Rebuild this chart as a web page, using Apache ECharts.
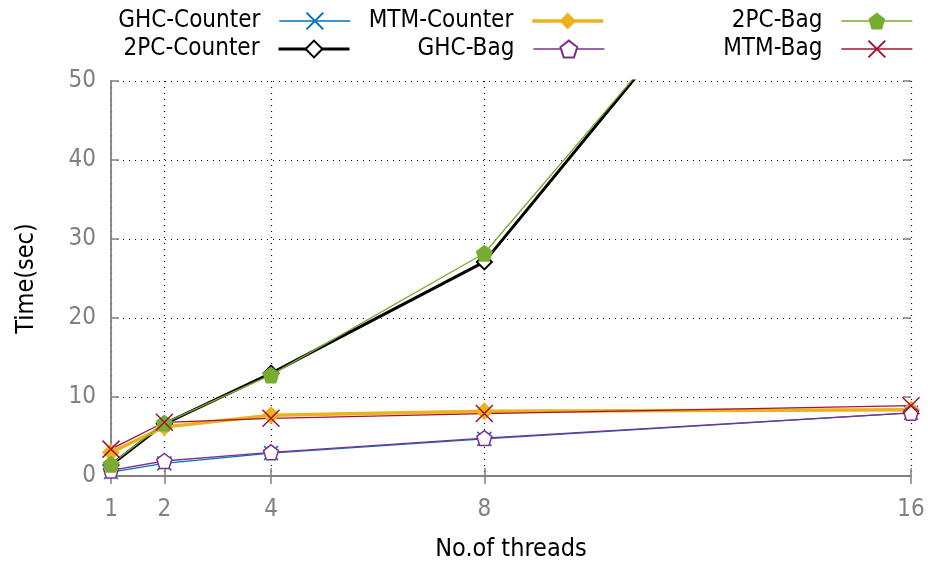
<!DOCTYPE html>
<html>
<head>
<meta charset="utf-8">
<script src="https://cdn.jsdelivr.net/npm/echarts@6/dist/echarts.min.js"></script>
<style>
  html, body { margin: 0; padding: 0; background: #fff; }
  #chart { width: 928px; height: 565px; }
</style>
</head>
<body>
<div id="chart"></div>
<script>
const threads = [1, 2, 4, 8, 16];
const tickValues = [1, 2, 4, 8, 16];

const ghcCounter = [0.5, 1.6, 2.9, 4.7, 8.0];
const twoPcCounter = [1.4, 6.6, 13.0, 27.1, 93.0];
const mtmCounter = [3.0, 6.2, 7.7, 8.2, 8.4];
const ghcBag = [0.7, 1.9, 3.0, 4.8, 8.0];
const twoPcBag = [1.5, 6.7, 12.8, 28.2, 91.5];
const mtmBag = [3.4, 6.8, 7.3, 7.9, 8.9];

const FONT = '"DejaVu Sans Condensed", "DejaVu Sans"';
const X_PATH = 'path://M0,0L10,10M10,0L0,10';
const PENTAGON = 'path://M0,-10L9.51,-3.09L5.88,8.09L-5.88,8.09L-9.51,-3.09Z';

function pairs(vals) {
  return threads.map((t, i) => [t, vals[i]]);
}

function mkSeries(name, vals, color, width, symbol, size, filled) {
  return {
    name: name,
    type: 'line',
    data: pairs(vals),
    symbol: symbol,
    symbolSize: size,
    showSymbol: true,
    clip: true,
    animation: false,
    lineStyle: { color: color, width: width },
    itemStyle: {
      color: filled ? color : '#fff',
      borderColor: color,
      borderWidth: filled ? 0 : 1.5
    },
    emphasis: { disabled: true }
  };
}

// x markers are strokes only
function mkCross(name, vals, color, size) {
  const s = mkSeries(name, vals, color, 1.3, X_PATH, size, false);
  s.itemStyle = { color: color, borderColor: color, borderWidth: 1.5 };
  return s;
}

const series = [
  mkCross('GHC-Counter', ghcCounter, '#0072bd', 14),
  mkSeries('2PC-Counter', twoPcCounter, '#000000', 3, 'diamond', 15, false),
  mkSeries('MTM-Counter', mtmCounter, '#edb120', 3.5, 'diamond', 18, true),
  mkSeries('GHC-Bag', ghcBag, '#7e2f8e', 1.3, PENTAGON, 15, false),
  mkSeries('2PC-Bag', twoPcBag, '#77ac30', 1.3, PENTAGON, 17, true),
  mkCross('MTM-Bag', mtmBag, '#a2142f', 17)
];
series[1].itemStyle.borderWidth = 2;

// one legend per entry so the text is right-aligned against the sample
const legendPos = [
  ['GHC-Counter', 577, 9, 1.3],
  ['2PC-Counter', 577, 37, 3],
  ['MTM-Counter', 323, 9, 3.5],
  ['GHC-Bag', 323, 37, 1.3],
  ['2PC-Bag', 15, 9, 1.3],
  ['MTM-Bag', 15, 37, 1.3]
];
const legends = legendPos.map(p => ({
  data: [p[0]],
  right: p[1],
  top: p[2],
  padding: 0,
  align: 'right',
  itemWidth: 71,
  itemHeight: 21,
  selectedMode: false,
  lineStyle: { width: p[3] },
  textStyle: { fontFamily: FONT, fontSize: 24, color: '#000', padding: [0, 14, 0, 0] }
}));

const gridLine = { show: true, lineStyle: { color: '#000', width: 1.2, type: [1, 5] } };
const axisGray = '#808080';

const option = {
  animation: false,
  backgroundColor: '#fff',
  legend: legends,
  grid: { left: 111, right: 17, top: 81, bottom: 89, containLabel: false, outerBoundsMode: 'none' },
  xAxis: [{
    type: 'value',
    min: 1,
    max: 16,
    name: 'No.of threads',
    nameLocation: 'middle',
    nameGap: 61,
    nameTextStyle: { fontFamily: FONT, fontSize: 25, color: '#000' },
    axisLine: { show: true, lineStyle: { color: axisGray, width: 1.8 } },
    axisTick: { show: true, inside: true, length: 8, customValues: tickValues, lineStyle: { color: axisGray, width: 1.5 } },
    axisLabel: { customValues: tickValues, margin: 22, fontFamily: FONT, fontSize: 24, color: axisGray },
    splitLine: gridLine
  }, {
    type: 'value',
    position: 'top',
    min: 1,
    max: 16,
    axisLine: { show: false },
    axisTick: { show: true, inside: true, length: 8, customValues: tickValues, lineStyle: { color: axisGray, width: 1.5 } },
    axisLabel: { show: false },
    splitLine: { show: false }
  }],
  yAxis: [{
    type: 'value',
    min: 0,
    max: 50,
    interval: 10,
    name: 'Time(sec)',
    nameLocation: 'middle',
    nameGap: 72,
    nameTextStyle: { fontFamily: FONT, fontSize: 25, color: '#000' },
    axisLine: { show: true, lineStyle: { color: axisGray, width: 1.8 } },
    axisTick: { show: true, inside: true, length: 8, lineStyle: { color: axisGray, width: 1.5 } },
    axisLabel: { margin: 15, fontFamily: FONT, fontSize: 24, color: axisGray },
    splitLine: gridLine
  }, {
    type: 'value',
    position: 'right',
    min: 0,
    max: 50,
    interval: 10,
    axisLine: { show: false },
    axisTick: { show: true, inside: true, length: 8, lineStyle: { color: axisGray, width: 1.5 } },
    axisLabel: { show: false },
    splitLine: { show: false }
  }],
  series: series
};

const chart = echarts.init(document.getElementById('chart'));
chart.setOption(option);
</script>
</body>
</html>
